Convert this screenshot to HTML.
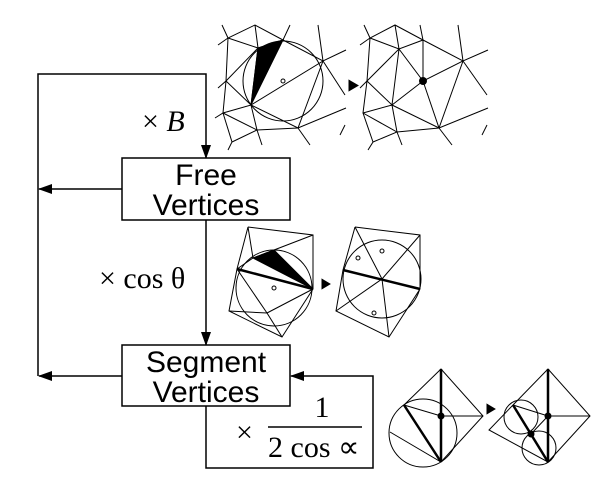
<!DOCTYPE html>
<html><head><meta charset="utf-8"><style>
html,body{margin:0;padding:0;background:#fff;}
svg{display:block;}
text{font-family:"Liberation Sans",sans-serif;fill:#000;}
.serif{font-family:"Liberation Serif",serif;}
</style></head><body>
<svg width="606" height="483" viewBox="0 0 606 483">
<defs>
<marker id="ah" markerWidth="14" markerHeight="10" refX="13" refY="5" orient="auto" markerUnits="userSpaceOnUse">
<path d="M0,0 L14,5 L0,10 Z" fill="#000"/></marker>
</defs>
<g stroke="#000" stroke-width="1.5" fill="none">
<polyline points="38,376 38,74 206,74 206,158" marker-end="url(#ah)"/>
<line x1="122" y1="189" x2="39" y2="189" marker-end="url(#ah)"/>
<line x1="206" y1="220" x2="206" y2="345" marker-end="url(#ah)"/>
<line x1="122" y1="376" x2="39" y2="376" marker-end="url(#ah)"/>
<polyline points="206,406 206,468 373,468 373,376 291,376" marker-end="url(#ah)"/>
</g>
<g>
<rect x="122" y="158" width="168" height="62" fill="#fff" stroke="#000" stroke-width="1.5"/>
<text x="206" y="185" font-size="30" text-anchor="middle">Free</text>
<text x="206" y="215" font-size="30" text-anchor="middle">Vertices</text>
</g>
<g>
<rect x="122" y="345" width="168" height="61" fill="#fff" stroke="#000" stroke-width="1.5"/>
<text x="206" y="372" font-size="30" text-anchor="middle">Segment</text>
<text x="206" y="402" font-size="30" text-anchor="middle">Vertices</text>
</g>
<text class="serif" x="142" y="131" font-size="30">× <tspan font-style="italic">B</tspan></text>
<text class="serif" x="99" y="288" font-size="30">× cos θ</text>
<g>
<text class="serif" x="236" y="442" font-size="30">×</text>
<text class="serif" x="322" y="417" font-size="30" text-anchor="middle">1</text>
<line x1="268" y1="427" x2="362" y2="427" stroke="#000" stroke-width="1.5"/>
<text class="serif" x="268" y="457" font-size="30">2 cos ∝</text>
</g>
<g stroke="#000" stroke-width="1" fill="none">
<circle cx="283" cy="81" r="40"/>
<circle cx="283" cy="81" r="2"/>
<polygon points="258,48 283,40 251,105" fill="#000"/>
<polyline points="218,45 228,38 255,25 283,40 323,61 346,50"/>
<polyline points="228,38 258,48 283,40 290,25"/>
<polyline points="228,38 226,81 223,113 232,142 228,150"/>
<polyline points="255,25 258,48 226,81 251,105 258,48"/>
<polyline points="218,88 226,81"/>
<polyline points="251,105 323,61 318,25"/>
<polyline points="323,61 298,128 251,105 223,113 215,118"/>
<polyline points="223,113 257,130 298,128 346,108"/>
<polyline points="232,142 257,130 251,105"/>
<polyline points="298,128 310,145"/>
<polyline points="257,130 262,145"/>
<polyline points="323,61 345,95"/>
<polyline points="340,135 345,125"/>
<polyline points="228,38 222,25"/>
</g>
<polygon points="350,82 356,85.5 350,89" fill="#000" stroke="#000" stroke-width="3"/>
<g stroke="#000" stroke-width="1" fill="none">
<polyline points="360,45 370,38 395,25 423,40 463,61 488,50"/>
<polyline points="370,38 399,49 423,40 420,25"/>
<polyline points="370,38 367,81 363,113 373,142 368,150"/>
<polyline points="395,25 399,49 367,81 392,105 399,49 423,81 423,40"/>
<polyline points="360,88 367,81"/>
<polyline points="392,105 423,81 463,61 458,25"/>
<polyline points="423,81 439,128 392,105"/>
<polyline points="463,61 439,128"/>
<polyline points="363,113 392,105 397,132 373,142"/>
<polyline points="363,113 397,132 439,128 488,108"/>
<polyline points="439,128 452,145"/>
<polyline points="397,132 402,145"/>
<polyline points="463,61 487,95"/>
<polyline points="482,135 487,125"/>
<polyline points="370,38 364,25"/>
</g>
<circle cx="423" cy="81" r="4" fill="#000"/>
<g stroke="#000" stroke-width="1" fill="none">
<circle cx="274" cy="288" r="38"/>
<circle cx="274" cy="288" r="2"/>
<polygon points="253,258 274,250 313,289" fill="#000"/>
<polyline points="248,227 313,235 313,289 282,337 229,311 237,269 248,227 253,258"/>
<polyline points="313,235 274,250 253,258 237,269"/>
<polyline points="267,313 313,289"/>
<polyline points="267,313 237,269"/>
<polyline points="267,313 282,337"/>
<polyline points="267,313 229,311"/>
<line x1="237" y1="269" x2="313" y2="289" stroke-width="2.5"/>
</g>
<polygon points="323,281 328,284 323,287" fill="#000" stroke="#000" stroke-width="3"/>
<g stroke="#000" stroke-width="1" fill="none">
<circle cx="382" cy="279" r="39"/>
<circle cx="358" cy="258" r="2"/><circle cx="382" cy="251" r="2"/><circle cx="374" cy="313" r="2"/>
<polyline points="355,227 420,235 420,289 389,337 336,311 343,270 355,227"/>
<polyline points="355,227 382,279 420,235"/>
<polyline points="336,311 382,279 389,337"/>
<line x1="343" y1="270" x2="420" y2="289" stroke-width="2.5"/>
</g>
<g stroke="#000" stroke-width="1" fill="none">
<circle cx="423" cy="433" r="34"/>
<polyline points="404,405 441,369 483,416 441,462 390,432"/>
<polyline points="404,405 441,416 483,416"/>
<line x1="404" y1="405" x2="441" y2="462" stroke-width="2.5"/>
<line x1="441" y1="369" x2="441" y2="462" stroke-width="2.5"/>
</g>
<circle cx="441" cy="416" r="3.5" fill="#000"/>
<polygon points="488,406 493,409 488,412" fill="#000" stroke="#000" stroke-width="3"/>
<g stroke="#000" stroke-width="1" fill="none">
<circle cx="521" cy="417" r="17"/>
<circle cx="539" cy="448" r="17"/>
<polyline points="513,405 548,369 590,416 548,462 489,430 513,405"/>
<polyline points="513,405 548,416 590,416"/>
<polyline points="531,434 548,416"/>
<line x1="513" y1="405" x2="548" y2="462" stroke-width="2.5"/>
<line x1="548" y1="369" x2="548" y2="462" stroke-width="2.5"/>
</g>
<circle cx="548" cy="416" r="3.5" fill="#000"/>
<circle cx="531" cy="434" r="3.5" fill="#000"/>
</svg>
</body></html>
